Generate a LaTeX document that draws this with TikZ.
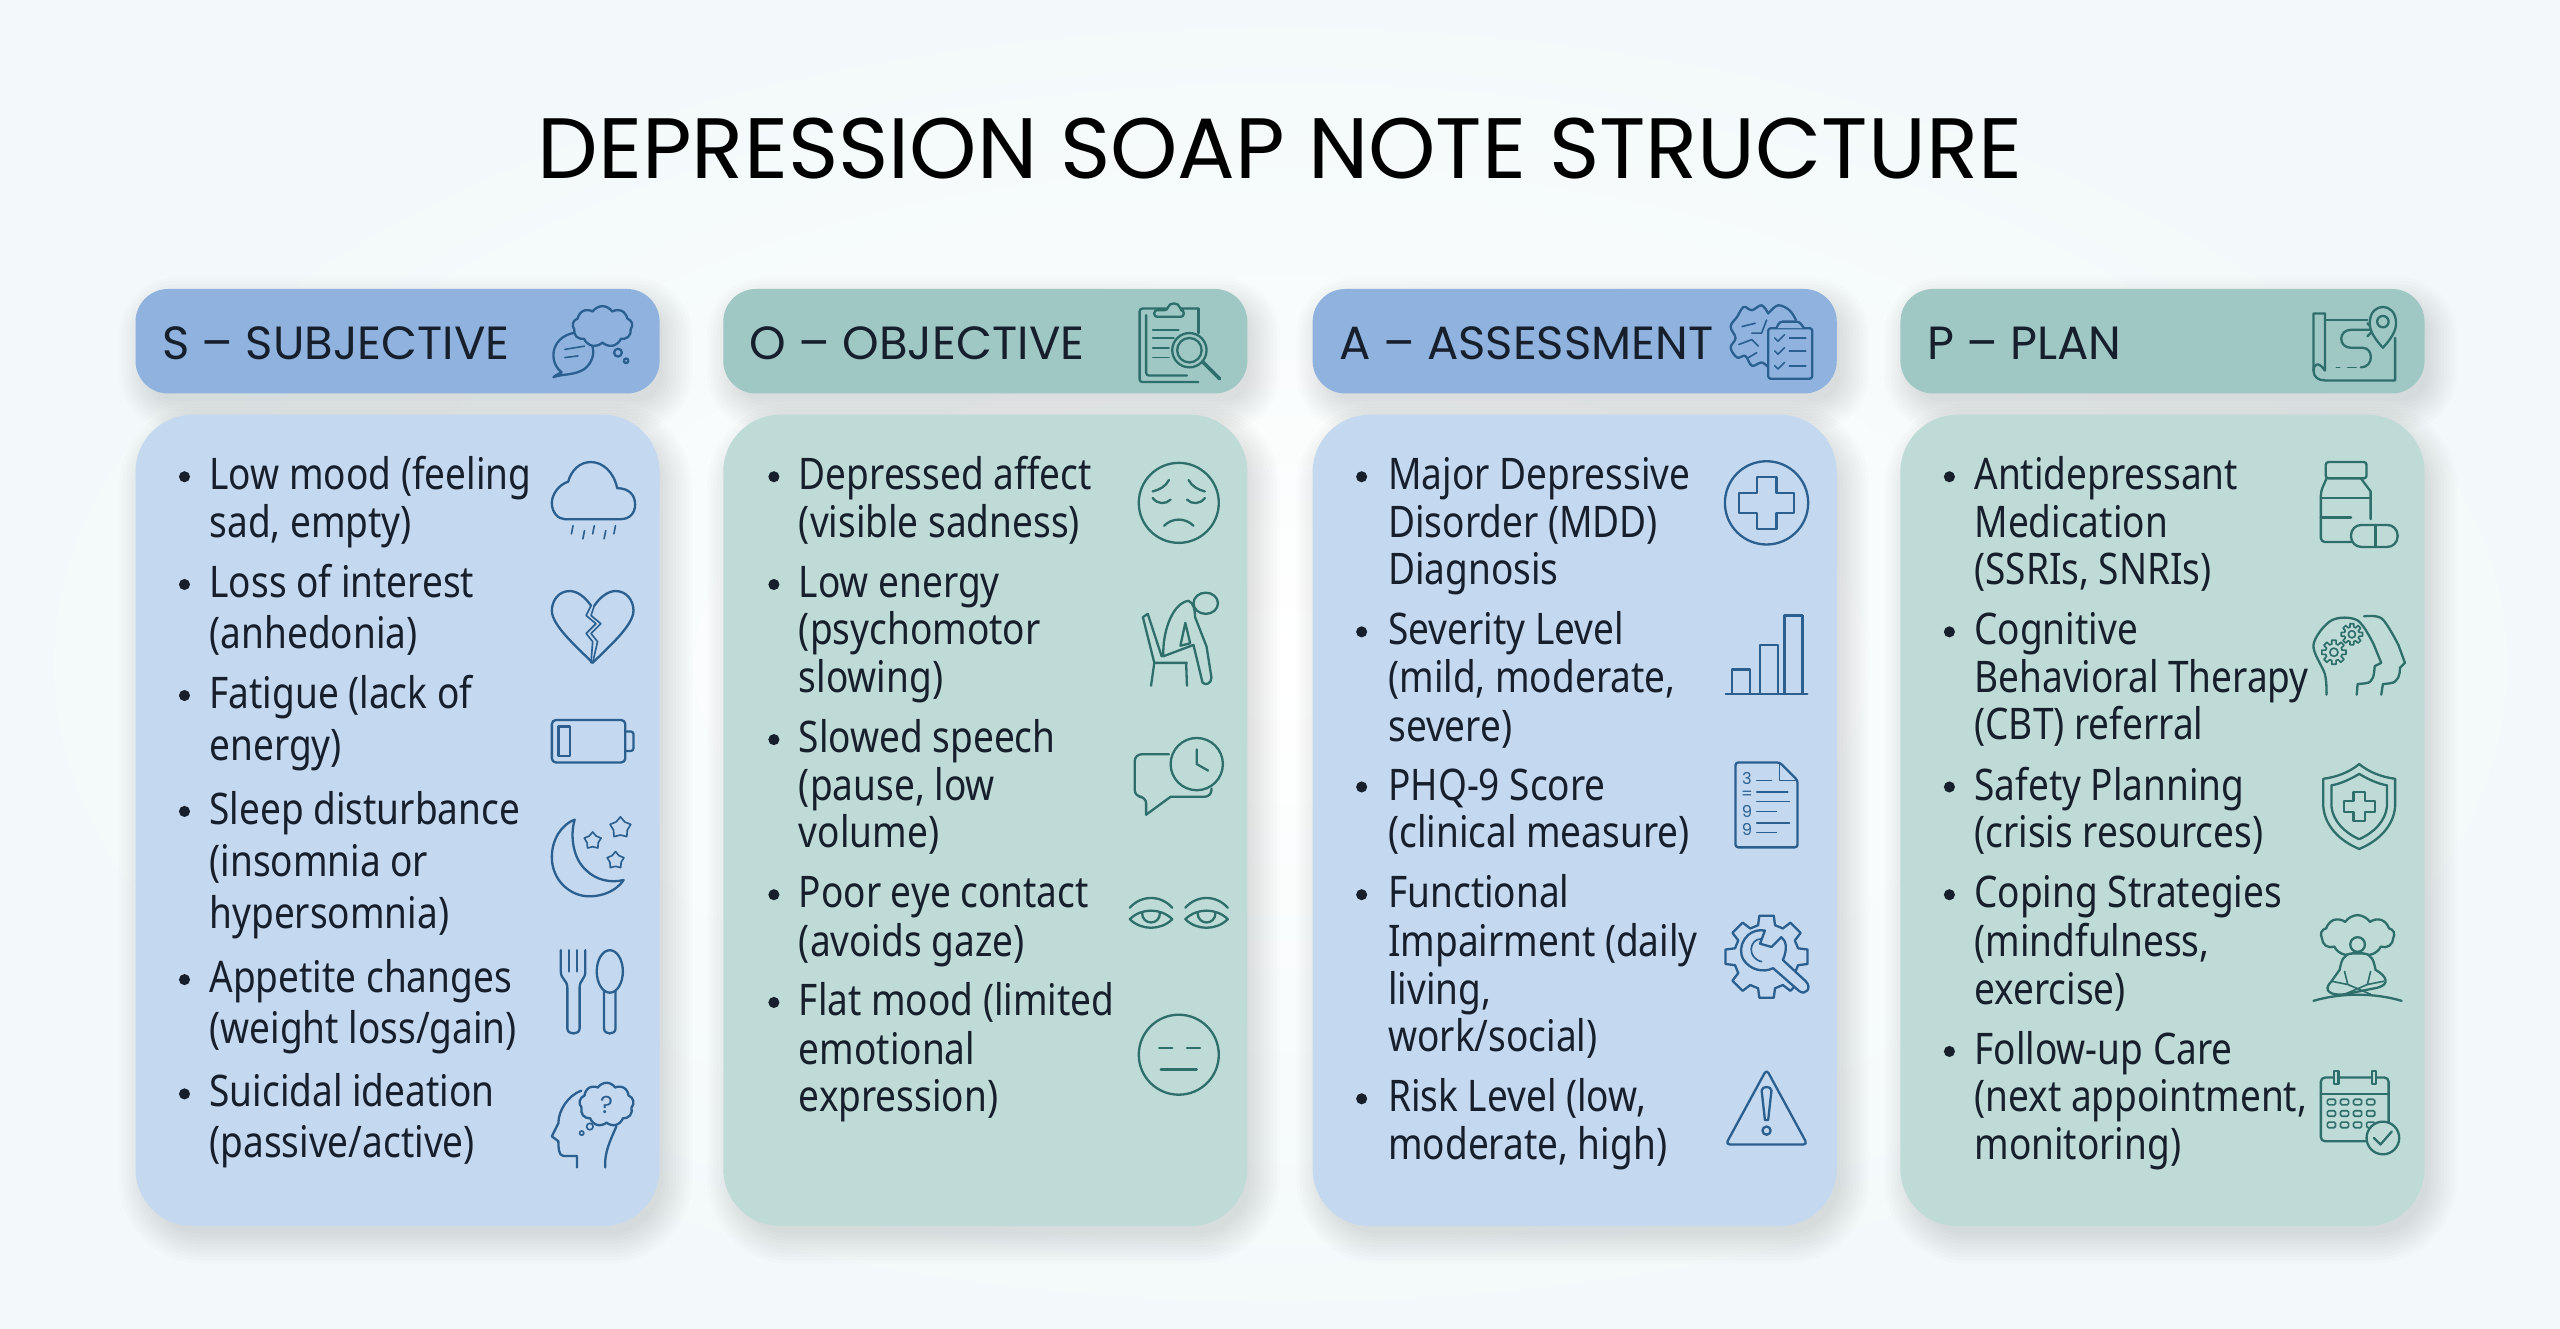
\documentclass[tikz,border=0pt]{standalone}
\usepackage{fontspec}
\usetikzlibrary{shapes.geometric,shapes.symbols,arrows}
\setmainfont{Poppins}
\newfontfamily\bodyfont[FakeStretch=0.85]{Noto Sans}

\definecolor{textdark}{HTML}{161F2B}
\definecolor{hdrb}{HTML}{8FB3DE}
\definecolor{hdrg}{HTML}{9FC7C4}
\definecolor{panb}{HTML}{C4D9F0}
\definecolor{pang}{HTML}{BFDBD7}
\definecolor{iconblue}{HTML}{2B5F8F}
\definecolor{icongreen}{HTML}{2E6E6B}
\definecolor{bgedge}{HTML}{F3F9FA}

\tikzset{
    titletext/.style={font=\fontsize{31.5}{36}\selectfont,text=black,inner sep=0pt},
    hdrtext/.style={font=\fontsize{17.1}{22}\selectfont,text=textdark,inner sep=0pt,anchor=base west},
    bodytext/.style={font=\bodyfont\fontsize{16}{19}\selectfont,text=textdark,inner sep=0pt,anchor=base west},
    ibl/.style={color=iconblue,line width=.85pt,line cap=round,line join=round},
    igr/.style={color=icongreen,line width=.85pt,line cap=round,line join=round},
    thin line/.style={line width=.6pt},
    puff/.style={cloud,draw,cloud puffs=9,cloud puff arc=115,aspect=1.35,inner sep=0pt},
}

% soft shadow: x1,y1,x2,y2,radius
\newcommand{\softshadow}[5]{
    \foreach \d in {15,13,...,-3}
        \fill[black,opacity=.013,rounded corners={(#5+\d)*0.6pt}]
            (#1-\d+5,#2-\d+8) rectangle (#3+\d+5,#4+\d+8);
}
% gear outline: inner, outer radius
\newcommand{\gearline}[2]{
    \foreach \a in {0,45,...,315}
        \draw (\a-15:#1) -- (\a-10:#2) -- (\a+10:#2) -- (\a+15:#1) -- (\a+30:#1);
}

\begin{document}
\begin{tikzpicture}[x=0.6pt,y=-0.6pt]

\useasboundingbox (0,0) rectangle (1568,814);
\shade[inner color=white,outer color=bgedge] (0,0) rectangle (1568,814);

\node[titletext] (title) at (784,91) {DEPRESSION SOAP NOTE STRUCTURE};

% Panels
\foreach \x/\c in {83/b,443/g,804/b,1164/g} {
    \softshadow{\x}{177}{\x+321}{241}{20}
    \fill[hdr\c,rounded corners=12pt] (\x,177) rectangle (\x+321,241);
    \softshadow{\x}{254}{\x+321}{751}{36}
    \fill[pan\c,rounded corners=21pt] (\x,254) rectangle (\x+321,751);
}

% Headers
\node[hdrtext] (hs) at (99,220) {S – SUBJECTIVE};
\node[hdrtext] (ho) at (459,220) {O – OBJECTIVE};
\node[hdrtext] (ha) at (820,220) {A – ASSESSMENT};
\node[hdrtext] (hp) at (1180,220) {P – PLAN};

% Subjective
\foreach \nm/\y/\txt in {
    s1/291/{Low mood (feeling},s2/320/{sad, empty)},
    s3/357/{Loss of interest},s4/388/{(anhedonia)},
    s5/425/{Fatigue (lack of},s6/457/{energy)},
    s7/496/{Sleep disturbance},s8/528/{(insomnia or},s9/560/{hypersomnia)},
    s10/599/{Appetite changes},s11/630/{(weight loss/gain)},
    s12/669/{Suicidal ideation},s13/700/{(passive/active)}}
    \node[bodytext] (\nm) at (128,\y+9) {\txt};
\foreach \y in {291,357,425,496,599,669}
    \fill[textdark] (113,\y+1) circle[radius=3.4];

% Objective
\foreach \nm/\y/\txt in {
    o1/291/{Depressed affect},o2/320/{(visible sadness)},
    o3/357/{Low energy},o4/386/{(psychomotor},o5/415/{slowing)},
    o6/452/{Slowed speech},o7/481/{(pause, low},o8/510/{volume)},
    o9/547/{Poor eye contact},o10/577/{(avoids gaze)},
    o11/613/{Flat mood (limited},o12/643/{emotional},o13/672/{expression)}}
    \node[bodytext] (\nm) at (489,\y+9) {\txt};
\foreach \y in {291,357,452,547,613}
    \fill[textdark] (474,\y+1) circle[radius=3.4];

% Assessment
\foreach \nm/\y/\txt in {
    a1/291/{Major Depressive},a2/320/{Disorder (MDD)},a3/349/{Diagnosis},
    a4/386/{Severity Level},a5/415/{(mild, moderate,},a6/445/{severe)},
    a7/481/{PHQ-9 Score},a8/510/{(clinical measure)},
    a9/547/{Functional},a10/577/{Impairment (daily},a11/606/{living,},a12/635/{work/social)},
    a13/672/{Risk Level (low,},a14/701/{moderate, high)}}
    \node[bodytext] (\nm) at (850,\y+9) {\txt};
\foreach \y in {291,386,481,547,672}
    \fill[textdark] (834,\y+1) circle[radius=3.4];

% Plan
\foreach \nm/\y/\txt in {
    p1/291/{Antidepressant},p2/320/{Medication},p3/349/{(SSRIs, SNRIs)},
    p4/386/{Cognitive},p5/415/{Behavioral Therapy},p6/444/{(CBT) referral},
    p7/481/{Safety Planning},p8/510/{(crisis resources)},
    p9/547/{Coping Strategies},p10/577/{(mindfulness,},p11/606/{exercise)},
    p12/643/{Follow-up Care},p13/672/{(next appointment,},p14/701/{monitoring)}}
    \node[bodytext] (\nm) at (1209,\y+9) {\txt};
\foreach \y in {291,386,481,547,643}
    \fill[textdark] (1194,\y+1) circle[radius=3.4];

% -------------------------------------------

% speech and thought
\begin{scope}[shift={(363,210)},ibl]
    \draw (-19,18) .. controls (-27,12) and (-26,-3) .. (-12,-6) .. controls (0,-7) and (5,8) .. (-5,16) .. controls (-11,20) and (-19,19) .. (-24,21) .. controls (-22,19) and (-20,19) .. (-19,18);
    \draw[thin line] (-17,4) -- (-5,2) (-17,9) -- (-9,8);
    \node[puff,fill=hdrb,minimum width=22pt,minimum height=15pt] (sc) at (6,-10) {};
    \draw (15.5,6) circle[radius=2.4];
    \draw (20.5,11) circle[radius=1.4];
\end{scope}

% rain cloud
\begin{scope}[shift={(363,306)},ibl]
    \draw (-17,12) -- (17,12) .. controls (23,12) and (26,8) .. (26,3) .. controls (26,-3) and (22,-7) .. (15,-7) .. controls (13,-17) and (6,-23) .. (-1,-23) .. controls (-8,-23) and (-13,-18) .. (-15,-11) .. controls (-21,-9) and (-25,-3) .. (-25,2) .. controls (-25,8) and (-21,12) .. (-17,12) -- cycle;
    \foreach \x/\y in {-12/16,-5/19,1/16,8/19,14/16}
        \draw[thin line] (\x,\y) -- (\x-1,\y+5);
\end{scope}

% broken heart
\begin{scope}[shift={(363,384)},ibl]
    \draw (-1,-13) .. controls (-5,-19) and (-10,-22) .. (-14,-22) .. controls (-21,-22) and (-25,-16) .. (-25,-10) .. controls (-25,-1) and (-10,12) .. (0,22) .. controls (10,12) and (25,-1) .. (25,-10) .. controls (25,-16) and (21,-22) .. (14,-22) .. controls (10,-22) and (5,-19) .. (1,-13);
    \draw[thin line] (-1,-13) -- (-4,-7) -- (2,-2) -- (-4,4) -- (0,9) -- (-1,22);
    \draw[thin line] (1,-13) -- (-1,-7) -- (5,-2) -- (-1,4) -- (3,9) -- (0,22);
\end{scope}

% battery
\begin{scope}[shift={(363,454)},ibl]
    \draw[rounded corners=1.5pt] (-25,-13) rectangle (20,13);
    \draw[rounded corners=1pt] (20,-6) -- (25,-6) -- (25,6) -- (20,6);
    \draw (-21,-9) rectangle (-14,9);
\end{scope}

% moon
\begin{scope}[shift={(363,525)},ibl]
    \draw (-11,-23) .. controls (-19,-20) and (-25,-11) .. (-25,0) .. controls (-25,14) and (-14,24) .. (-2,24) .. controls (7,24) and (15,20) .. (19,14) .. controls (11,16) and (2,14) .. (-4,8) .. controls (-12,1) and (-14,-13) .. (-11,-23) -- cycle;
    \node[star,star points=5,draw,minimum size=8pt,inner sep=0pt,thin line] (st1) at (17,-18) {};
    \node[star,star points=5,draw,minimum size=6.5pt,inner sep=0pt,thin line] (st2) at (0,-10) {};
    \node[star,star points=5,draw,minimum size=6.5pt,inner sep=0pt,thin line] (st3) at (14,2) {};
\end{scope}

% fork and spoon
\begin{scope}[shift={(363,608)},ibl]
    \draw (-19.5,-26) -- (-19.5,-13) .. controls (-19.5,-8) and (-15.5,-8) .. (-15.5,-3) -- (-15.5,22) .. controls (-15.5,26) and (-8,26) .. (-8,22) -- (-8,-3) .. controls (-8,-8) and (-4.5,-8) .. (-4.5,-13) -- (-4.5,-26);
    \draw (-14.5,-26) -- (-14.5,-13) (-9.5,-26) -- (-9.5,-13);
    \draw (7,-1) -- (7,22) .. controls (7,26) and (14,26) .. (14,22) -- (14,-1);
    \draw (10.5,-13) ellipse[x radius=8,y radius=13];
\end{scope}

% head with question
\begin{scope}[shift={(363,690)},ibl]
    \draw (-9.6,25) -- (-9.6,18) -- (-18,18) .. controls (-21,18) and (-21,12) .. (-21,9) -- (-25,6) -- (-21,-2) .. controls (-21,-10) and (-15,-19) .. (-7,-22);
    \draw (7.7,25) .. controls (7,16) and (11,8) .. (14.5,0);
    \node[puff,minimum width=20pt,minimum height=16pt] (sq) at (8.5,-13.5) {};
    \node[text=iconblue,inner sep=0pt,font=\fontsize{9}{9}\selectfont] (qm) at (8.5,-13) {?};
    \draw[thin line] (-1.7,0) circle[radius=2];
    \draw[thin line] (-6.7,4) circle[radius=1.3];
\end{scope}

% clipboard and lens
\begin{scope}[shift={(723,210)},igr]
    \draw[rounded corners=1pt] (11,-21) -- (-25,-21) -- (-25,24) -- (11,24);
    \draw[rounded corners=1pt] (-21,-17) -- (-21,20) -- (4,20);
    \draw[rounded corners=1pt] (11,-21) -- (11,-6);
    \draw[rounded corners=1pt,fill=hdrg] (-16,-16) -- (-16,-20) -- (-8,-20) .. controls (-7,-25) and (-1,-25) .. (0,-20) -- (2,-20) -- (2,-16) -- cycle;
    \draw[thin line] (-17,-8) -- (-1,-8) (-17,-3) -- (-4,-3) (-17,3) -- (-7,3) (-17,9) -- (-7,9);
    \draw[fill=hdrg] (5.5,4.5) circle[radius=10.5];
    \draw (5.5,4.5) circle[radius=7.5];
    \draw[line width=1.3pt] (14,12) -- (24,22);
\end{scope}

% sad face
\begin{scope}[shift={(722,308)},igr]
    \draw (0,0) circle[radius=24.5];
    \draw (-16,-7) .. controls (-12,-8) and (-8,-10) .. (-6,-14);
    \draw (16,-7) .. controls (12,-8) and (8,-10) .. (6,-14);
    \draw (-16,-3) .. controls (-13,1) and (-8,1) .. (-5,-2);
    \draw (16,-3) .. controls (13,1) and (8,1) .. (5,-2);
    \draw (-9,14) .. controls (-4,9) and (4,9) .. (9,14);
\end{scope}

% person on chair
\begin{scope}[shift={(723,391)},igr]
    \draw (15.5,-21.5) ellipse[x radius=7.5,y radius=6.5];
    \draw (-23,-13) -- (-16,15) -- (4,15);
    \draw (-23,-13) -- (-20,-15) -- (-11.5,11);
    \draw (-16,15) -- (-18,29) (3.5,15) -- (4,29);
    \draw[fill=pang] (-10.5,11) .. controls (-11,-6) and (-4,-22) .. (5,-23) .. controls (8,-22) and (9,-17) .. (9,-13) -- (16,5) -- (19,24) .. controls (19,28) and (15,29) .. (13.5,27) -- (8,4) -- cycle;
    \draw (3,-9.5) -- (0,4.5) -- (6,3) -- cycle;
\end{scope}

% speech and clock
\begin{scope}[shift={(722,476)},igr]
    \draw[rounded corners=2.5pt] (-6,-14) -- (-27,-14) -- (-27,12) -- (-20,12) -- (-20,23);
    \draw (-20,23) -- (-5,12);
    \draw[rounded corners=2.5pt] (-5,12) -- (20,12) -- (20,7);
    \draw (11,-8) circle[radius=16];
    \draw (11,-17) -- (11,-8) -- (18,-4);
\end{scope}

% eyes
\begin{scope}[shift={(722,560)},igr]
    \foreach \x in {-17,17} {
        \draw (\x-13,-4) .. controls (\x-6,-12) and (\x+6,-12) .. (\x+13,-4);
        \draw (\x-13,3) .. controls (\x-6,-4) and (\x+6,-4) .. (\x+13,3) .. controls (\x+6,10) and (\x-6,10) .. (\x-13,3) -- cycle;
        \draw (\x-5.5,-1) .. controls (\x-5.5,7) and (\x+5.5,7) .. (\x+5.5,-1);
    }
\end{scope}

% flat face
\begin{scope}[shift={(722,646)},igr]
    \draw (0,0) circle[radius=24.5];
    \draw (-12,-4) -- (-4,-4) (5,-4) -- (13,-4);
    \draw (-11,9) -- (11,9);
\end{scope}

% brain and checklist
\begin{scope}[shift={(1085,210)},ibl]
    \draw plot[smooth,tension=.6] coordinates {(-2,-18)(-6,-23)(-12,-20)(-17,-22)(-21,-16)(-25,-10)(-22,-3)(-25,3)(-21,9)(-16,8)(-12,14)(-6,12)(-2,15)};
    \draw plot[smooth,tension=.6] coordinates {(-2,-18)(4,-23)(11,-20)(15,-14)};
    \draw[thin line] (-18,-10) -- (-10,-12) (-20,1) -- (-12,-2) -- (-8,2) (-14,9) -- (-9,6) (-3,-14) -- (-6,-6) -- (-12,-6);
    \draw[rounded corners=1pt,fill=hdrb] (-2,-9) rectangle (25,22);
    \draw[rounded corners=1pt,fill=hdrb] (3,-9) -- (5,-13) -- (17,-13) -- (20,-9);
    \foreach \y in {-3,5,14} {
        \draw[thin line] (2,\y) -- (4,\y+2) -- (8,\y-2);
        \draw[thin line] (11,\y) -- (21,\y);
    }
\end{scope}

% plus in circle
\begin{scope}[shift={(1082,308)},ibl]
    \draw (0,0) circle[radius=25.5];
    \draw (-6,-16) -- (6,-16) -- (6,-6) -- (17,-6) -- (17,6) -- (6,6) -- (6,16) -- (-6,16) -- (-6,6) -- (-17,6) -- (-17,-6) -- (-6,-6) -- cycle;
\end{scope}

% bar chart
\begin{scope}[shift={(1082,401)},ibl]
    \draw (-25,24) -- (25,24);
    \draw (-21,24) -- (-21,9) -- (-10,9) -- (-10,24);
    \draw (-4,24) -- (-4,-6) -- (7,-6) -- (7,24);
    \draw (11,24) -- (11,-24) -- (22,-24) -- (22,24);
\end{scope}

% score sheet
\begin{scope}[shift={(1082,493)},ibl]
    \draw[rounded corners=1pt] (8,-26) -- (-19,-26) -- (-19,26) -- (19,26) -- (19,-15) -- cycle;
    \draw[thin line] (8,-26) -- (8,-15) -- (19,-15);
    \node[text=iconblue,inner sep=0pt,font=\fontsize{6}{6}\selectfont] (n3) at (-12,-16) {3};
    \node[text=iconblue,inner sep=0pt,font=\fontsize{6}{6}\selectfont] (nq) at (-12,-6) {=};
    \node[text=iconblue,inner sep=0pt,font=\fontsize{6}{6}\selectfont] (n9a) at (-12,4) {9};
    \node[text=iconblue,inner sep=0pt,font=\fontsize{6}{6}\selectfont] (n9b) at (-12,15) {9};
    \draw[thin line] (-6,-15) -- (3,-15) (-6,-8) -- (13,-8) (-6,-2) -- (14,-2) (-6,4) -- (6,4) (-6,11) -- (14,11) (-6,17) -- (6,17);
\end{scope}

% gear and wrench
\begin{scope}[shift={(1082,586)},ibl]
    \gearline{20}{25.5}
    \draw[fill=panb] (-1,-16) .. controls (-12,-18) and (-19,-6) .. (-14,2) .. controls (-10,8) and (-2,10) .. (4,7) -- (20,21) .. controls (24,24) and (28,19) .. (24,15) -- (10,2) .. controls (13,-5) and (12,-10) .. (9,-12) -- (3,-6) -- (-4,-8) -- cycle;
    \draw[thin line] (-3,-11) .. controls (-11,-11) and (-12,1) .. (-3,3);
\end{scope}

% warning
\begin{scope}[shift={(1082,678)},ibl]
    \draw[rounded corners=1.5pt] (0,-23) -- (25,23) -- (-25,23) -- cycle;
    \draw (-3,-10) .. controls (-3,-13) and (3,-13) .. (3,-10) -- (1,8) -- (-1,8) -- cycle;
    \draw (0,14.5) circle[radius=2.5];
\end{scope}

% map
\begin{scope}[shift={(1442,210)},igr]
    \draw (-18,-18) -- (-25,-18) -- (-25,17) .. controls (-25,21) and (-22,23) .. (-18,23) -- (25,23) -- (25,-3);
    \draw (-18,-18) -- (-18,17) .. controls (-22,11) and (-25,13) .. (-25,17);
    \draw (-18,-14) -- (8,-14);
    \draw (12,-8) -- (-2,-8) .. controls (-10,-8) and (-10,3) .. (-2,3) -- (5,3) .. controls (12,3) and (12,15) .. (4,15);
    \draw (8,-12) -- (12,-8) -- (8,-4);
    \draw[dashed,thin line] (1,15) -- (-11,15);
    \draw[fill=hdrg] (17.5,3) .. controls (12,-3) and (9,-8) .. (9.5,-13) .. controls (10,-25) and (25,-25) .. (25.5,-13) .. controls (26,-8) and (23,-3) .. (17.5,3) -- cycle;
    \draw (17.5,-13) circle[radius=3.5];
\end{scope}

% pill bottle
\begin{scope}[shift={(1445,309)},igr]
    \draw[rounded corners=1pt] (-20.5,-26) rectangle (4.5,-16);
    \draw[rounded corners=1.5pt] (-20,-16) -- (-23.5,-8) -- (-23.5,23) -- (-5,23);
    \draw (1,-16) -- (7,-8) -- (7,9);
    \draw (-23.5,-4) -- (7,-4) (-23.5,8) -- (-5,8);
    \draw[rounded corners=3.8pt] (-5,12.5) rectangle (23.5,26);
    \draw (10,12.5) -- (10,26);
\end{scope}

% two heads with gears
\begin{scope}[shift={(1445,401)},igr]
    \draw plot[smooth,tension=.55] coordinates {(-20,24.5)(-21,12)(-28,-6)(-17,-21)(-1,-21)(9,-6)};
    \draw (9,-6) -- (13.5,5) -- (9.5,7) .. controls (9,12) and (9,17) .. (4,17.5) -- (-1,18) -- (-1.5,24.5);
    \draw plot[smooth,tension=.55] coordinates {(3,-23.5)(14,-22)(24,-6)};
    \draw (24,-6) -- (28,5) -- (25,8) .. controls (25,12) and (24,17) .. (19,17.5) -- (14.5,18) -- (13.5,24.5);
    \begin{scope}[shift={(-15.5,-1.5)},thin line]
        \gearline{5.2}{7.5}
        \draw (0,0) circle[radius=2.5];
    \end{scope}
    \begin{scope}[shift={(-4.5,-12.5)},thin line]
        \gearline{4.6}{6.6}
        \draw (0,0) circle[radius=2.2];
    \end{scope}
\end{scope}

% shield
\begin{scope}[shift={(1445,494)},igr]
    \draw (0,-26) .. controls (-6,-21) and (-14,-18) .. (-22,-17) -- (-22,0) .. controls (-21,12) and (-12,21) .. (0,26) .. controls (12,21) and (21,12) .. (22,0) -- (22,-17) .. controls (14,-18) and (6,-21) .. (0,-26) -- cycle;
    \draw (0,-20) .. controls (-5,-17) and (-11,-14) .. (-17,-13) -- (-17,0) .. controls (-16,9) and (-9,16) .. (0,20) .. controls (9,16) and (16,9) .. (17,0) -- (17,-13) .. controls (11,-14) and (5,-17) .. (0,-20) -- cycle;
    \draw (-3.5,-9) -- (3.5,-9) -- (3.5,-3.5) -- (9.5,-3.5) -- (9.5,3.5) -- (3.5,3.5) -- (3.5,9) -- (-3.5,9) -- (-3.5,3.5) -- (-9.5,3.5) -- (-9.5,-3.5) -- (-3.5,-3.5) -- cycle;
\end{scope}

% meditation
\begin{scope}[shift={(1444,587)},igr]
    \node[puff,fill=pang,minimum width=27pt,minimum height=15pt] (tree) at (0,-14) {};
    \draw[fill=pang] (0,-8.5) circle[radius=4.5];
    \draw[fill=pang] (-3,-3) .. controls (-9,-3) and (-10,2) .. (-11,7) -- (-16,14) .. controls (-22,20) and (-16,23) .. (-8,22) -- (12,18) .. controls (20,16) and (18,11) .. (11,7) .. controls (10,2) and (9,-3) .. (3,-3) -- cycle;
    \draw[thin line] (-8,8) -- (-6,16) -- (8,22) (8,8) -- (6,16) -- (-8,22) (-16,14) -- (-6,16) (16,14) -- (6,16);
    \draw (-27,26) .. controls (-10,21) and (10,21) .. (27,26);
\end{scope}

% calendar and check
\begin{scope}[shift={(1446,680)},igr]
    \draw[rounded corners=1.5pt] (-24.5,-20) rectangle (17,19);
    \draw (-24.5,-10) -- (17,-10);
    \foreach \x in {-15,8}
        \draw[fill=pang] (\x-1.3,-24) rectangle (\x+1.3,-16);
    \foreach \x in {-18,-10,-2,6}
        \foreach \y in {-5,2,9}
            \draw[thin line,rounded corners=.5pt] (\x-2.5,\y-1.7) rectangle (\x+2.5,\y+1.7);
    \draw[fill=pang] (13.5,17) circle[radius=10];
    \draw (8,17) -- (12,21) -- (19,13);
\end{scope}

% -------------------------------------------

\end{tikzpicture}
\end{document}
